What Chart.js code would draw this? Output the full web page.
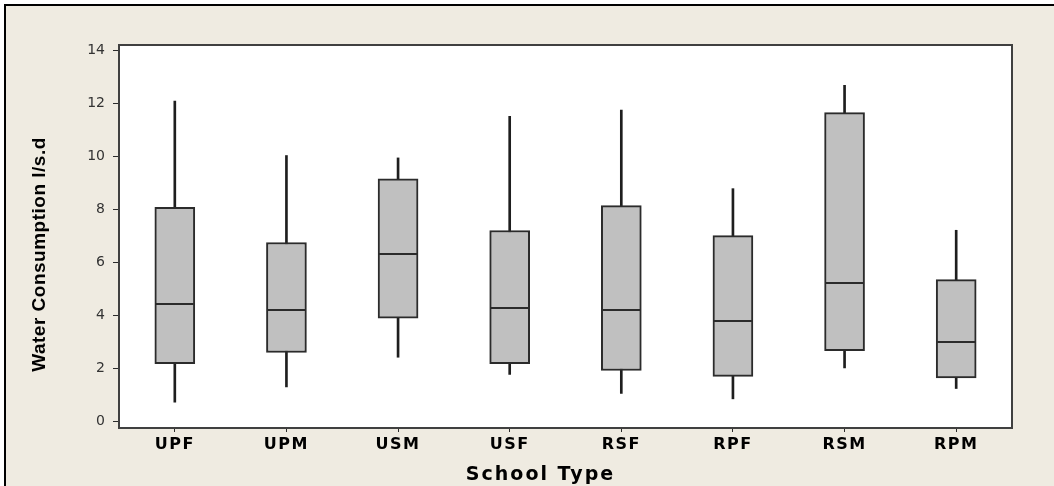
<!DOCTYPE html>
<html>
<head>
<meta charset="utf-8">
<title>Water Consumption by School Type</title>
<script src="https://cdn.jsdelivr.net/npm/chart.js@4"></script>
<style>
  html, body { margin: 0; padding: 0; background: #fff; overflow: hidden; }
  #frame { position: absolute; left: 4px; top: 4px; width: 1050px; height: 482px;
           border-top: 2px solid #000; border-left: 2px solid #000; background: #efebe1; }
  #chart { position: absolute; left: 0; top: 0; }
</style>
</head>
<body>
<div id="frame"></div>
<canvas id="chart" width="1054" height="486"></canvas>
<script>
// School types and boxplot statistics
var CATEGORIES   = ['UPF', 'UPM', 'USM', 'USF', 'RSF', 'RPF', 'RSM', 'RPM'];
var WHISKER_LOW  = [0.72, 1.30, 2.42, 1.77, 1.05, 0.85, 2.02, 1.24];
var Q1           = [2.18, 2.60, 3.89, 2.18, 1.92, 1.70, 2.67, 1.64];
var MEDIAN       = [4.43, 4.19, 6.33, 4.28, 4.19, 3.79, 5.21, 3.00];
var Q3           = [8.08, 6.75, 9.15, 7.20, 8.14, 7.01, 11.65, 5.35];
var WHISKER_HIGH = [12.08, 10.03, 9.94, 11.51, 11.74, 8.78, 12.68, 7.21];
var Y_TICKS      = [0, 2, 4, 6, 8, 10, 12, 14];

var INK = '#2b2b2b';

// wrap a scale draw step so it gets letter spacing / a small shift
function wrapDraw(scale, name, spacing, dx, dy) {
  if (scale['_wrapped_' + name]) return;
  var orig = scale[name];
  scale['_wrapped_' + name] = true;
  scale[name] = function () {
    var ctx = this.ctx;
    ctx.save();
    ctx.letterSpacing = spacing;
    ctx.translate(dx, dy);
    orig.apply(this, arguments);
    ctx.restore();
  };
}

var minitabPlugin = {
  id: 'minitab',
  afterLayout: function (chart) {
    wrapDraw(chart.scales.x, 'drawLabels', '1.5px', 0, 0);
    wrapDraw(chart.scales.x, 'drawTitle', '2px', -25, 0);
    wrapDraw(chart.scales.y, 'drawTitle', '0.5px', 0, 18);
  },
  beforeDraw: function (chart) {
    var a = chart.chartArea, ctx = chart.ctx;
    ctx.save();
    ctx.fillStyle = '#ffffff';
    ctx.fillRect(a.left, a.top, a.right - a.left, a.bottom - a.top);
    ctx.restore();
  },
  afterDatasetsDraw: function (chart) {
    // median lines across each box
    var ctx = chart.ctx;
    var meta = chart.getDatasetMeta(0);
    var y = chart.scales.y;
    ctx.save();
    ctx.strokeStyle = INK;
    ctx.lineWidth = 2;
    meta.data.forEach(function (bar, i) {
      var py = Math.round(y.getPixelForValue(MEDIAN[i]));
      ctx.beginPath();
      ctx.moveTo(bar.x - bar.width / 2 + 1, py);
      ctx.lineTo(bar.x + bar.width / 2 - 1, py);
      ctx.stroke();
    });
    ctx.restore();
  },
  afterDraw: function (chart) {
    var a = chart.chartArea, ctx = chart.ctx;
    ctx.save();
    ctx.strokeStyle = '#404040';
    ctx.lineWidth = 2;
    ctx.strokeRect(a.left, a.top, a.right - a.left, a.bottom - a.top);
    ctx.restore();
  }
};

new Chart(document.getElementById('chart'), {
  type: 'bar',
  data: {
    labels: CATEGORIES,
    datasets: [
      {
        label: 'Box',
        data: CATEGORIES.map(function (c, i) { return [Q1[i], Q3[i]]; }),
        backgroundColor: '#c0c0c0',
        borderColor: INK,
        borderWidth: 2,
        borderSkipped: false,
        barThickness: 40,
        grouped: false,
        order: 1
      },
      {
        label: 'Whisker',
        data: CATEGORIES.map(function (c, i) { return [WHISKER_LOW[i], WHISKER_HIGH[i]]; }),
        backgroundColor: '#1e1e1e',
        borderWidth: 0,
        barThickness: 2,
        grouped: false,
        order: 2
      }
    ]
  },
  options: {
    responsive: false,
    animation: false,
    devicePixelRatio: 1,
    layout: { padding: { top: 45, right: 42, left: 0, bottom: 0 } },
    plugins: { legend: { display: false }, tooltip: { enabled: false } },
    scales: {
      x: {
        offset: true,
        grid: { offset: false, drawOnChartArea: false, drawTicks: true, tickLength: 4, color: INK, lineWidth: 1 },
        border: { display: false },
        ticks: { color: '#000', padding: 3, font: { family: 'DejaVu Sans', size: 16, weight: 'bold' } },
        title: {
          display: true, text: 'School Type', color: '#000',
          padding: { top: 0, bottom: 0 },
          font: { family: 'DejaVu Sans', size: 19, weight: 'bold' }
        },
        afterFit: function (s) { s.height = 58; }
      },
      y: {
        min: -0.25,
        max: 14.2,
        grid: { drawOnChartArea: false, drawTicks: true, tickLength: 6, color: INK, lineWidth: 1 },
        border: { display: false },
        afterBuildTicks: function (s) { s.ticks = Y_TICKS.map(function (v) { return { value: v }; }); },
        ticks: { color: '#333', padding: 8, font: { family: 'DejaVu Sans', size: 14 } },
        title: {
          display: true, text: 'Water Consumption l/s.d', color: '#000',
          padding: { top: 28, bottom: 0 },
          font: { family: 'Liberation Sans', size: 19, weight: 'bold' }
        },
        afterFit: function (s) { s.width = 119; }
      }
    }
  },
  plugins: [minitabPlugin]
});
</script>
</body>
</html>
